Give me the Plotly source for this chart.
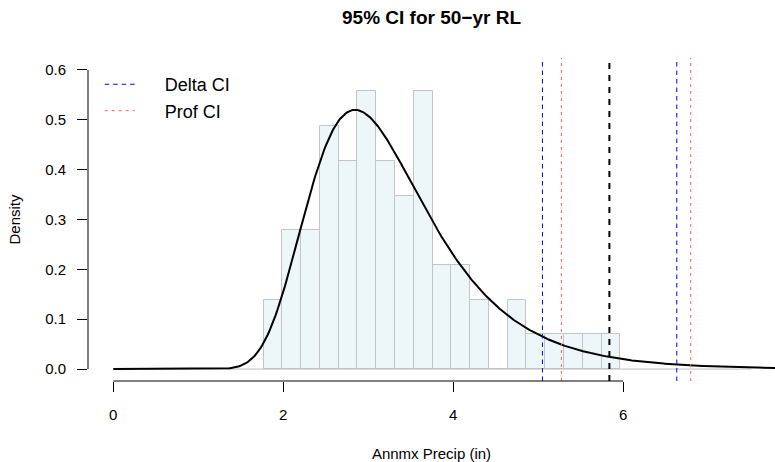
import numpy as np
import plotly.graph_objects as go

# ---- data ----
title_text = "95% CI for 50\u2212yr RL"
x_title = "Annmx Precip (in)"
y_title = "Density"
legend_names = ["Delta CI", "Prof CI"]

bin_start = 1.768
bin_width = 0.221
bin_counts = [2, 4, 4, 7, 6, 8, 6, 5, 8, 3, 3, 2, 0, 2, 1, 1, 1, 1, 1]

# fitted GEV parameters (location, scale, shape)
gev_loc = 2.87
gev_scale = 0.708
gev_shape = 0.035

return_level_50 = 5.839
delta_ci = [5.051, 6.632]
prof_ci = [5.274, 6.796]

x_tick_vals = [0, 2, 4, 6]
y_tick_vals = [0.0, 0.1, 0.2, 0.3, 0.4, 0.5, 0.6]
zero_line_range = [0.0, 7.51]

# ---- derived ----
counts = np.array(bin_counts, dtype=float)
density = counts / (counts.sum() * bin_width)
edges = bin_start + bin_width * np.arange(len(bin_counts) + 1)
centers = (edges[:-1] + edges[1:]) / 2

xg = np.linspace(0, 8, 600)
z = 1 + gev_shape * (xg - gev_loc) / gev_scale
t = z ** (-1 / gev_shape)
gev_pdf = (1 / gev_scale) * t ** (gev_shape + 1) * np.exp(-t)

FONT = "Liberation Sans, Arial, Helvetica, sans-serif"
PAD = "\u00a0" * 5

fig = go.Figure()
fig.add_trace(go.Bar(
    x=centers, y=density, width=bin_width,
    marker=dict(color="#EDF6F8", line=dict(color="#C4C4C4", width=1)),
    showlegend=False, hoverinfo="skip"))
fig.add_trace(go.Scatter(
    x=zero_line_range, y=[0, 0], mode="lines",
    line=dict(color="#BEBEBE", width=1), showlegend=False, hoverinfo="skip"))
fig.add_trace(go.Scatter(
    x=xg, y=gev_pdf, mode="lines",
    line=dict(color="black", width=2), showlegend=False))

# CI lines
for i, v in enumerate(delta_ci):
    fig.add_shape(type="line", xref="x", yref="paper", x0=v, x1=v, y0=0, y1=1,
                  line=dict(color="#0000FF", width=1, dash="4.5px,4px"),
                  name=PAD + legend_names[0], showlegend=(i == 0), legendgroup="d")
for i, v in enumerate(prof_ci):
    fig.add_shape(type="line", xref="x", yref="paper", x0=v, x1=v, y0=0, y1=1,
                  line=dict(color="#FF5A5A", width=1, dash="3px,4px"),
                  name=PAD + legend_names[1], showlegend=(i == 0), legendgroup="p")
fig.add_shape(type="line", xref="x", yref="paper", x0=return_level_50, x1=return_level_50,
              y0=0, y1=1, line=dict(color="black", width=2, dash="6px,6px"))

# R-style axis lines (only spanning the tick range)
fig.add_shape(type="line", xref="x", yref="paper", x0=x_tick_vals[0], x1=x_tick_vals[-1],
              y0=0, y1=0, line=dict(color="black", width=1))
fig.add_shape(type="line", xref="paper", yref="y", x0=0, x1=0,
              y0=y_tick_vals[0], y1=y_tick_vals[-1], line=dict(color="black", width=1))

fig.update_layout(
    width=775, height=462,
    margin=dict(l=88, r=0, t=58, b=81),
    plot_bgcolor="white", paper_bgcolor="white",
    font=dict(family=FONT, color="black", size=15),
    title=dict(text="<b>" + title_text + "</b>", x=(88 + 775) / 2 / 775, xanchor="center",
               y=1 - 17.5 / 462, yanchor="middle", yref="container",
               font=dict(size=19, family=FONT, color="black")),
    bargap=0,
    showlegend=True,
    legend=dict(x=0.017, y=0.975, xanchor="left", yanchor="top",
                bgcolor="rgba(0,0,0,0)", font=dict(size=18, family=FONT),
                itemwidth=30, tracegroupgap=0),
    xaxis=dict(range=[-0.2976, 7.788], tickvals=x_tick_vals, ticks="outside", ticklen=10,
               tickcolor="black", showgrid=False, zeroline=False, showline=False,
               automargin=False, ticklabelstandoff=10,
               tickfont=dict(size=15), title=dict(text=x_title, standoff=28, font=dict(size=15))),
    yaxis=dict(range=[-0.024, 0.624], tickvals=y_tick_vals, tickformat=".1f", ticks="outside",
               ticklen=10, tickcolor="black", showgrid=False, zeroline=False, showline=False,
               automargin=False, ticklabelstandoff=8,
               tickfont=dict(size=15), title=dict(text=y_title, standoff=20, font=dict(size=15))),
)

fig.write_html("out.html", config={"displayModeBar": False},
               post_script="document.body.style.margin='0px';")
